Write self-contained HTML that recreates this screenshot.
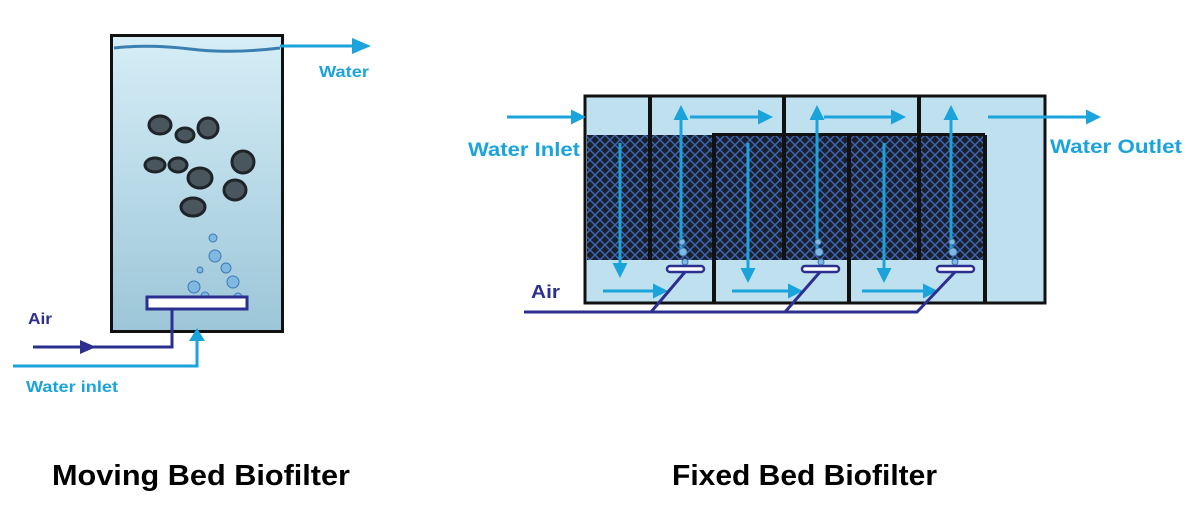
<!DOCTYPE html>
<html><head><meta charset="utf-8"><style>
html,body{margin:0;padding:0;background:#fff;width:1190px;height:516px;overflow:hidden}
svg{display:block}
text{font-family:"Liberation Sans",sans-serif;font-weight:bold}
</style></head><body>
<svg width="1190" height="516" viewBox="0 0 1190 516" xmlns="http://www.w3.org/2000/svg">
<defs>
<linearGradient id="wt" x1="0" y1="0" x2="0" y2="1">
<stop offset="0" stop-color="#d6eef7"/><stop offset="1" stop-color="#9cc6d8"/>
</linearGradient>
<pattern id="mesh" width="10" height="10" patternUnits="userSpaceOnUse">
<rect width="10" height="10" fill="#1a1f2c"/>
<path d="M0 0L10 10M10 0L0 10" stroke="#3f67b8" stroke-width="1.4"/>
</pattern>
<marker id="ah" viewBox="0 0 10 10" refX="8" refY="5" markerWidth="5" markerHeight="5" orient="auto"><path d="M0 0L10 5L0 10z" fill="#1ba3dc"/></marker>
</defs>

<!-- Moving bed -->
<rect x="111.5" y="35.5" width="171" height="296" fill="url(#wt)" stroke="#111" stroke-width="3"/>
<path d="M114 48 Q150 44 190 49 T280 48" stroke="#3a7fb0" stroke-width="3" fill="none"/>
<g fill="#4a565e" stroke="#1e2428" stroke-width="3">
<ellipse cx="160" cy="125" rx="11" ry="9"/><ellipse cx="185" cy="135" rx="9" ry="7"/><ellipse cx="208" cy="128" rx="10" ry="10"/>
<ellipse cx="155" cy="165" rx="10" ry="7"/><ellipse cx="178" cy="165" rx="9" ry="7"/><ellipse cx="200" cy="178" rx="12" ry="10"/>
<ellipse cx="243" cy="162" rx="11" ry="11"/><ellipse cx="235" cy="190" rx="11" ry="10"/><ellipse cx="193" cy="207" rx="12" ry="9"/>
</g>
<g fill="#7fb8e0" stroke="#3d78b5" stroke-width="1">
<circle cx="213" cy="238" r="4"/><circle cx="215" cy="256" r="6"/><circle cx="226" cy="268" r="5"/><circle cx="194" cy="287" r="6"/><circle cx="205" cy="296" r="4"/><circle cx="233" cy="282" r="6"/><circle cx="200" cy="270" r="3"/><circle cx="238" cy="297" r="4"/>
</g>
<rect x="147" y="297" width="100" height="12" fill="#fff" stroke="#2b2f8f" stroke-width="3"/>
<polyline points="172,309 172,347 33,347" fill="none" stroke="#2b2f8f" stroke-width="3"/>
<path d="M80 340L96 347L80 354z" fill="#2b2f8f"/>
<polyline points="13,366 197,366 197,336" fill="none" stroke="#1ba3dc" stroke-width="3"/>
<path d="M189 341L197 328L205 341z" fill="#1ba3dc"/>
<line x1="280" y1="46" x2="358" y2="46" stroke="#1ba3dc" stroke-width="3"/>
<path d="M352 38L371 46L352 54z" fill="#1ba3dc"/>
<text x="319" y="77" font-size="16" fill="#1ba3dc" textLength="50" lengthAdjust="spacingAndGlyphs">Water</text>
<text x="28" y="324" font-size="16" fill="#2b2f8f" textLength="24" lengthAdjust="spacingAndGlyphs">Air</text>
<text x="26" y="392" font-size="16" fill="#1ba3dc" textLength="92" lengthAdjust="spacingAndGlyphs">Water inlet</text>

<!-- Fixed bed -->
<rect x="585" y="96" width="460" height="207" fill="#bfe0ee"/>
<rect x="587" y="135" width="398" height="125" fill="url(#mesh)"/>
<rect x="585" y="96" width="460" height="207" fill="none" stroke="#111" stroke-width="3"/>
<g fill="#111">
<rect x="648" y="96" width="4" height="164"/><rect x="782" y="96" width="4" height="164"/><rect x="917" y="96" width="4" height="164"/>
<rect x="712" y="135" width="4" height="168"/><rect x="847" y="135" width="4" height="168"/><rect x="983" y="135" width="4" height="168"/>
<rect x="712" y="133" width="273" height="3"/>
</g>
<g stroke="#1ba3dc" stroke-width="3" marker-end="url(#ah)">
<line x1="507" y1="117" x2="583" y2="117"/>
<line x1="690" y1="117" x2="770" y2="117"/>
<line x1="824" y1="117" x2="903" y2="117"/>
<line x1="988" y1="117" x2="1098" y2="117"/>
<line x1="620" y1="143" x2="620" y2="275"/>
<line x1="748" y1="143" x2="748" y2="280"/>
<line x1="884" y1="143" x2="884" y2="280"/>
<line x1="681" y1="250" x2="681" y2="108"/>
<line x1="817" y1="250" x2="817" y2="108"/>
<line x1="951" y1="250" x2="951" y2="108"/>
<line x1="603" y1="291" x2="665" y2="291"/>
<line x1="732" y1="291" x2="800" y2="291"/>
<line x1="862" y1="291" x2="935" y2="291"/>
</g>
<g fill="#7fb8e0" stroke="#3d78b5" stroke-width="1">
<circle cx="682" cy="242" r="3"/><circle cx="683" cy="252" r="4"/><circle cx="685" cy="262" r="3"/>
<circle cx="818" cy="242" r="3"/><circle cx="819" cy="252" r="4"/><circle cx="821" cy="262" r="3"/>
<circle cx="952" cy="242" r="3"/><circle cx="953" cy="252" r="4"/><circle cx="955" cy="262" r="3"/>
</g>
<g fill="#fff" stroke="#2b2f8f" stroke-width="2.5">
<rect x="667" y="266" width="37" height="6" rx="3"/><rect x="802" y="266" width="37" height="6" rx="3"/><rect x="937" y="266" width="37" height="6" rx="3"/>
</g>
<g stroke="#2b2f8f" stroke-width="3" fill="none">
<line x1="524" y1="312" x2="918" y2="312"/>
<line x1="651" y1="312" x2="685" y2="272"/>
<line x1="785" y1="312" x2="820" y2="272"/>
<line x1="917" y1="312" x2="955" y2="272"/>
</g>
<text x="531" y="298" font-size="18" fill="#2b2f8f" textLength="29" lengthAdjust="spacingAndGlyphs">Air</text>
<text x="468" y="156" font-size="19" fill="#1ba3dc" textLength="112" lengthAdjust="spacingAndGlyphs">Water Inlet</text>
<text x="1050" y="153" font-size="19" fill="#1ba3dc" textLength="132" lengthAdjust="spacingAndGlyphs">Water Outlet</text>

<text x="52" y="485" font-size="29" fill="#000" textLength="298" lengthAdjust="spacingAndGlyphs">Moving Bed Biofilter</text>
<text x="672" y="485" font-size="29" fill="#000" textLength="265" lengthAdjust="spacingAndGlyphs">Fixed Bed Biofilter</text>
</svg>
</body></html>
